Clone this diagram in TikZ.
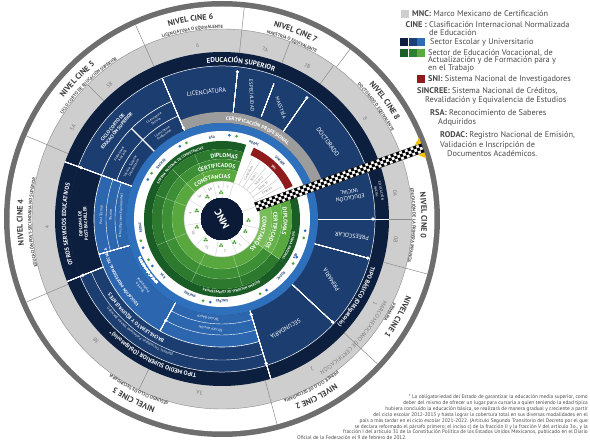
\documentclass[tikz,border=0pt]{standalone}
\usepackage{fontspec}
\setmainfont{PT Sans}
\usetikzlibrary{decorations.text}
\definecolor{borderg}{HTML}{6E6E6E}
\definecolor{bandg}{HTML}{CECECE}
\definecolor{divgray}{HTML}{8C8C8C}
\definecolor{darkband}{HTML}{0C1F3F}
\definecolor{navy}{HTML}{1C3D6F}
\definecolor{midblue}{HTML}{2C66AE}
\definecolor{ringblue}{HTML}{2E70BC}
\definecolor{certg}{HTML}{9C9C9C}
\definecolor{gdark}{HTML}{1A5C25}
\definecolor{gone}{HTML}{2D7A2E}
\definecolor{gtwo}{HTML}{3D8F35}
\definecolor{gthree}{HTML}{58A83F}
\definecolor{glight}{HTML}{66B24A}
\definecolor{glighter}{HTML}{78BD5A}
\definecolor{snired}{HTML}{8E1C1C}
\definecolor{mnccol}{HTML}{0B1A37}
\definecolor{txtg}{HTML}{4A4A4A}
\definecolor{titg}{HTML}{3A3A3A}
\definecolor{numg}{HTML}{7C7C7C}
\definecolor{dotblue}{HTML}{2C6FC0}
\definecolor{dotgreen}{HTML}{4DA33A}
\definecolor{flagy}{HTML}{F2C200}
\definecolor{sqa}{HTML}{0C1F3F}
\definecolor{sqb}{HTML}{1D3F73}
\definecolor{sqc}{HTML}{2E6DB5}
\definecolor{sqd}{HTML}{1D5E27}
\definecolor{sqe}{HTML}{2F7F32}
\definecolor{sqf}{HTML}{5AAB3F}
\newcommand\fsTitle{\fontsize{8}{8}\selectfont\bfseries}
\newcommand\fsSub{\fontsize{4.5}{4.5}\selectfont\bfseries}
\newcommand\fsBand{\fontsize{7}{7}\selectfont\bfseries}
\newcommand\fsBandS{\fontsize{6}{6}\selectfont\bfseries}
\newcommand\fsGreen{\fontsize{5.8}{5.8}\selectfont\bfseries}
\newcommand\fsRing{\fontsize{3.4}{3.4}\selectfont\bfseries}
\newcommand\fsMarco{\fontsize{5.8}{5.8}\selectfont}
\newcommand\fsCert{\fontsize{5.2}{5.2}\selectfont\bfseries}
\newcommand\fsBach{\fontsize{5}{5}\selectfont\bfseries}
\newcommand\fsEpt{\fontsize{4.2}{4.2}\selectfont\bfseries}
\newcommand\fsGen{\fontsize{3.6}{3.6}\selectfont}
\newcommand\fsTiny{\fontsize{3.4}{3.4}\selectfont}
\newcommand\annsec[5]{\fill[#5] (#1:#3pt) arc[start angle=#1,end angle=#2,radius=#3pt] -- (#2:#4pt) arc[start angle=#2,end angle=#1,radius=#4pt] -- cycle;}
\newcommand\ctext[5]{\path[decorate,decoration={text along path,text align=center,text color=#3,text={|#4|#5}}] ({#1+50}:#2pt) arc[start angle={#1+50},end angle={#1-50},radius=#2pt];}
\newcommand\clover[2]{\fill[dotgreen] (#1:#2pt) ++(-1.2,-0.6) circle (1.1pt) ++(2.4,0) circle (1.1pt) ++(-1.2,1.9) circle (1.1pt);}
\newcommand\dotpair[2]{\fill[dotblue] (#1:#2pt) circle (1.5pt); \fill[dotgreen] ({#1-5}:#2pt) circle (1.5pt);}
\tikzset{
  wl/.style={inner sep=0pt, text=white, align=center},
  numlbl/.style={inner sep=0pt, font=\fontsize{5.5}{5.5}\selectfont, text=numg},
  innum/.style={inner sep=0pt, font=\fontsize{3.8}{3.8}\selectfont, text=numg},
  divw/.style={white, line width=0.6pt},
  divg/.style={divgray, line width=0.5pt},
  legtxt/.style={anchor=west, inner sep=0pt, font=\fontsize{8.3}{8.3}\selectfont, text=txtg},
  foot/.style={anchor=east, inner sep=0pt, font=\fontsize{5.3}{5.3}\selectfont, text=txtg},
  sq/.style={minimum size=8pt, inner sep=0pt, anchor=north west},
  snil/.style={inner sep=0pt, font=\fsTiny, text=numg},
}
\begin{document}
\begin{tikzpicture}[x=1pt,y=1pt]
\useasboundingbox (-222,-225) rectangle (368,219);
% ---------- outer rings
\fill[borderg] (0,0) circle (218pt);
\fill[white] (0,0) circle (212.5pt);
\fill[bandg] (0,0) circle (190pt);
\draw[divgray,line width=0.4pt] (0,0) circle (190pt);
\fill[darkband] (0,0) circle (167pt);
\fill[navy] (0,0) circle (153pt);
\annsec{160}{202}{128}{153}{darkband}
\annsec{160}{287}{96}{128}{midblue}
\annsec{22}{113}{96}{107}{certg}
\draw[white,line width=0.5pt] (202:153pt) arc[start angle=202,end angle=520,radius=153pt];
% ---------- inner rings
\fill[ringblue] (0,0) circle (96pt);
\fill[white] (0,0) circle (88pt);
\annsec{72}{325}{70}{78}{gdark}
\annsec{325}{380}{70}{78}{gdark}
\annsec{72}{325}{60}{70}{gone}
\annsec{72}{325}{50}{60}{gtwo}
\annsec{72}{325}{38}{50}{gthree}
\annsec{325}{380}{60}{70}{gthree}
\annsec{325}{380}{50}{60}{glight}
\annsec{325}{380}{38}{50}{glighter}
\foreach \a in {113,135,160,202,244,287,325}
  \draw[white,opacity=0.45,line width=0.4pt] (\a:38pt) -- (\a:70pt);
\foreach \r in {50,60}
  \draw[white,opacity=0.3,line width=0.3pt] (72:\r pt) arc[start angle=72,end angle=380,radius=\r pt];
% number ring
\draw[gray!45,line width=0.3pt] (0,0) circle (38pt);
\foreach \a in {72,88,104,121,150,190,225,260,293,318,345,20}
  \draw[gray!45,line width=0.3pt] (\a:21pt) -- (\a:38pt);
\node[innum,rotate=-10] (n7) at (80:32pt) {7};
\node[innum,rotate=6] (n6) at (96:32pt) {6};
\node[innum,rotate=22] (n5b) at (112:32pt) {5b};
\node[innum,rotate=42] (n5a) at (135:32pt) {5a};
\node[innum,rotate=80] (n4) at (170:32pt) {4};
\node[innum,rotate=117] (n3b) at (207:32pt) {3b};
\node[innum,rotate=152] (n3a) at (242:32pt) {3a};
\node[innum,rotate=186] (n2) at (276:32pt) {2};
\node[innum,rotate=215] (n1) at (305:32pt) {1};
\foreach \a in {92,124,162,198,232,268,298,332,357}
  \clover{\a}{26.5}
% MNC
\fill[mnccol] (0,0) circle (21pt);
\node[text=white,inner sep=0pt,font=\fontsize{10}{10}\selectfont\bfseries,rotate=118] (mnc) at (0,0) {MNC};
% SNI gap
\foreach \a in {28.5,35.5,42.5,49.5,56.5,63.5}
  \draw[gray!55,line width=0.3pt] (\a:38pt) -- (\a:68pt);
\node[snil,rotate=60] (cand) at (60:53pt) {Candidato};
\node[snil,rotate=53] (niv1) at (53:53pt) {Nivel I};
\node[snil,rotate=46] (niv2) at (46:53pt) {Nivel II};
\node[snil,rotate=39] (niv3) at (39:53pt) {Nivel III};
\node[snil,rotate=32] (emer) at (32:53pt) {Emérito};
\annsec{25}{66}{70}{78}{snired}
\ctext{45}{72}{white}{\fsRing}{SNI}
% green labels
\ctext{88}{61.5}{white}{\fsGreen}{DIPLOMAS}
\ctext{96}{51.5}{white}{\fsGreen}{CERTIFICADOS}
\ctext{104}{40.5}{white}{\fsGreen}{CONSTANCIAS}
\ctext{-2}{61.5}{white}{\fsGreen}{DIPLOMAS}
\ctext{-13}{51.5}{white}{\fsGreen}{CERTIFICADOS}
\ctext{-22}{40.5}{white}{\fsGreen}{CONSTANCIAS}
\ctext{128}{72}{white}{\fsRing}{SISTEMA NACIONAL DE COMPETENCIAS}
\ctext{-82}{72}{white}{\fsRing}{SISTEMA NACIONAL DE COMPETENCIAS}
\ctext{-22}{72}{white}{\fsRing}{SISTEMA NACIONAL}
% white ring labels
\ctext{97}{81}{sqb}{\fsRing}{RSA}
\ctext{67}{81}{sqb}{\fsRing}{RODAC}
\ctext{45}{81}{sqb}{\fsRing}{SINCREE}
\ctext{138}{81}{sqb}{\fsRing}{SINCREE}
\ctext{186}{81}{sqb}{\fsRing}{RODAC}
\ctext{224}{81}{sqb}{\fsRing}{RSA}
\ctext{247}{81}{sqb}{\fsRing}{SINCREE}
\ctext{-90}{81}{sqb}{\fsRing}{SINCREE}
\ctext{-44}{81}{sqb}{\fsRing}{RODAC}
\ctext{-27}{81}{sqb}{\fsRing}{RSA}
\foreach \a in {85,120,152,200,214,262,302,333,352}
  \dotpair{\a}{84}
\ctext{215}{90}{white}{\fsRing}{EDUCACIÓN ABIERTA}
% ---------- navy region dividers
\foreach \a/\ra/\rb in {0/96/167,-15/96/153,-43/96/153,-73/96/167,113/96/153,160/96/167,202/128/167,196/96/128,135/96/128,241/96/128,84/107/148,69/110/145,55/107/148}
  \draw[divw] (\a:\ra pt) -- (\a:\rb pt);
\draw[divw] (113:128pt) arc[start angle=113,end angle=160,radius=128pt];
\draw[divw] (113:112pt) arc[start angle=113,end angle=160,radius=112pt];
\draw[divw] (160:128pt) arc[start angle=160,end angle=287,radius=128pt];
\draw[divw,line width=0.4pt] (160:116pt) arc[start angle=160,end angle=196,radius=116pt];
\draw[divw,line width=0.4pt] (160:107pt) arc[start angle=160,end angle=196,radius=107pt];
\draw[divw,line width=0.4pt] (241:105pt) arc[start angle=241,end angle=287,radius=105pt];
\draw[divw,line width=0.4pt] (241:116pt) arc[start angle=241,end angle=287,radius=116pt];
\draw[divw,line width=0.4pt] (202:141pt) arc[start angle=202,end angle=287,radius=141pt];
\foreach \a/\r in {84/148,55/148,160/150,202/150,0/151,-15/151,-43/151,-73/151,113/99,-73/100,241/116}
  \fill[white] (\a:\r pt) circle (1.8pt);
% ---------- gray band / white band dividers
\foreach \a in {157,114,84,53,19.5,-15,-43,-75,-157}
  \draw[divg] (\a:190pt) -- (\a:212.5pt);
\foreach \a in {157,135,114,84,69,54,19.5,0,-15,-43,-75,-116,-157}
  \draw[divg] (\a:167pt) -- (\a:190pt);
% gray band labels
\foreach \a/\t in {148.5/5A,130/5B,98/6,75.7/7A,60.8/7B,35/8,8.3/0A,-6.7/0B,-29/1,-59/2,-97.4/3A,-136/3B,182.6/4}
  \node[numlbl,rotate=\a-90] (g\t) at (\a:175pt) {\t};
\ctext{-42}{181}{numg}{\fsMarco}{MARCO MEXICANO DE CERTIFICACIÓN}
% white band titles
\ctext{136}{199.5}{titg}{\fsTitle}{NIVEL CINE 5}
\ctext{135}{190.6}{txtg}{\fsSub}{CICLO CORTO DE EDUCACIÓN SUPERIOR}
\ctext{99}{199.5}{titg}{\fsTitle}{NIVEL CINE 6}
\ctext{99}{190.6}{txtg}{\fsSub}{LICENCIATURA O EQUIVALENTE}
\ctext{68.5}{199.5}{titg}{\fsTitle}{NIVEL CINE 7}
\ctext{68.5}{190.6}{txtg}{\fsSub}{MAESTRÍA O EQUIVALENTE}
\ctext{36}{199.5}{titg}{\fsTitle}{NIVEL CINE 8}
\ctext{36}{190.6}{txtg}{\fsSub}{DOCTORADO O EQUIVALENTE}
\ctext{1}{199.5}{titg}{\fsTitle}{NIVEL CINE 0}
\ctext{-2}{190.6}{txtg}{\fsSub}{EDUCACIÓN DE LA PRIMERA INFANCIA}
\ctext{-29}{199.5}{titg}{\fsTitle}{NIVEL CINE 1}
\ctext{-29}{190.6}{txtg}{\fsSub}{PRIMARIA}
\ctext{-62}{199.5}{titg}{\fsTitle}{NIVEL CINE 2}
\ctext{-62}{190.6}{txtg}{\fsSub}{PRIMER CICLO DE SECUNDARIA}
\ctext{-116}{199.5}{titg}{\fsTitle}{NIVEL CINE 3}
\ctext{-116}{190.6}{txtg}{\fsSub}{SEGUNDO CICLO DE SECUNDARIA}
\ctext{181}{199.5}{titg}{\fsTitle}{NIVEL CINE 4}
\ctext{181}{190.6}{txtg}{\fsSub}{EDUCACIÓN POST-SECUNDARIA NO SUPERIOR}
% dark band labels
\ctext{83}{156.5}{white}{\fsBand}{EDUCACIÓN SUPERIOR}
\ctext{-30}{156.5}{white}{\fsBandS}{TIPO BÁSICO (Obligatorio)}
\ctext{243}{156.5}{white}{\fsBandS}{TIPO MEDIO SUPERIOR (Obligatorio)*}
\ctext{182}{156}{white}{\fsBandS}{OTROS SERVICIOS EDUCATIVOS}
\ctext{10}{160.5}{white}{\fsGen}{EDUCACIÓN}
\ctext{10}{155.5}{white}{\fsGen}{INICIAL}
\ctext{68}{98.5}{white}{\fsCert}{CERTIFICACIÓN PROFESIONAL}
\ctext{229}{133.5}{white}{\fsBach}{BACHILLERATO Y EQUIVALENTES}
\ctext{234}{143.5}{white}{\fsGen}{(General, Tecnológico, Profesional Técnico Bachiller)}
\ctext{210}{119}{white}{\fsEpt}{EDUCACIÓN PROFESIONAL TÉCNICA}
% navy region labels
\node[wl,font=\fontsize{6.2}{6.2}\selectfont,rotate=7] (lic) at (97:128pt) {LICENCIATURA};
\node[wl,font=\fontsize{5}{5}\selectfont,rotate=-87] (esp) at (76.5:127pt) {ESPECIALIDAD};
\node[wl,font=\fontsize{5}{5}\selectfont,rotate=-70] (mae) at (62:126pt) {MAESTRÍA};
\node[wl,font=\fontsize{6.2}{6.2}\selectfont,rotate=-54] (doc) at (36:131pt) {DOCTORADO};
\node[wl,font=\fontsize{4.8}{5.4}\selectfont\bfseries,rotate=50] (cc) at (140:140pt) {CICLO CORTO DE\\EDUCACIÓN SUPERIOR};
\node[wl,font=\fontsize{3.4}{3.8}\selectfont,rotate=34] (lict) at (124:120pt) {Licenciatura\\Técnica};
\node[wl,font=\fontsize{3.4}{3.8}\selectfont,rotate=34] (licp) at (124.5:104pt) {Licenciatura\\Profesional};
\node[wl,font=\fontsize{3.4}{3.8}\selectfont,rotate=58] (pas) at (147.5:120pt) {Profesional\\Asociado};
\node[wl,font=\fontsize{3.4}{3.8}\selectfont,rotate=61] (tsu) at (150:104pt) {Técnico Superior\\Universitario};
\node[wl,font=\fontsize{5.6}{6.2}\selectfont,rotate=190] (ini) at (10.5:130pt) {EDUCACIÓN\\INICIAL};
\node[wl,font=\fontsize{6}{6}\selectfont,rotate=172] (pre) at (-7.5:131pt) {PREESCOLAR};
\node[wl,font=\fontsize{6}{6}\selectfont,rotate=122] (pri) at (-29:125pt) {PRIMARIA};
\node[wl,font=\fontsize{6}{6}\selectfont,rotate=210] (sec) at (-60:127pt) {SECUNDARIA};
\node[wl,font=\fontsize{4.6}{5.2}\selectfont\bfseries,rotate=93] (dpb) at (182:139pt) {DIPLOMA DE\\POST-BACHILLER};
\node[wl,font=\fontsize{3.6}{3.6}\selectfont,rotate=88] (ptec) at (178:121pt) {Post Técnico};
\node[wl,font=\fontsize{3.6}{3.6}\selectfont,rotate=88] (tec) at (178:111.5pt) {Técnico};
\node[wl,font=\fontsize{3.4}{3.4}\selectfont,rotate=88] (otr) at (178:101pt) {Otros (Opciones Equivalentes)};
\node[wl,font=\fontsize{3.8}{4.2}\selectfont,rotate=130] (tpro) at (220:105pt) {Técnico\\Profesional};
\node[wl,font=\fontsize{3.6}{3.6}\selectfont,rotate=169] (tbas) at (262:100pt) {Técnico Básico};
\node[wl,font=\fontsize{3.6}{3.6}\selectfont,rotate=171] (taux) at (264:110.5pt) {Técnico Auxiliar};
% ---------- checkered flag
\begin{scope}[rotate=19.5]
\fill[white] (36,-4.5) rectangle (213,4.5);
\foreach \i in {0,...,58} \foreach \j in {0,1,2} {
  \pgfmathtruncatemacro{\chk}{mod(\i+\j,2)}
  \ifnum\chk=0 \fill[black] ({36+3*\i},{-4.5+3*\j}) rectangle ++(3,3);\fi
}
\draw[black,line width=0.3pt] (36,-4.5) rectangle (213,4.5);
\fill[flagy] (206,5) -- (213,5) -- (213,11) -- cycle;
\fill[flagy] (206,-5) -- (213,-5) -- (213,-11) -- cycle;
\end{scope}
% ---------- legend
\node[sq,fill=bandg] (lsq) at (179,209) {};
\node[legtxt] (lmnc) at (190,205) {\textbf{MNC:} Marco Mexicano de Certificación};
\node[legtxt,anchor=east] (lcine) at (205,194) {\textbf{CINE :}};
\node[legtxt] (lcine1) at (207,194) {Clasificación Internacional Normalizada};
\node[legtxt] (lcine2) at (207,186.5) {de Educación};
\node[sq,fill=sqa] (lb1) at (178,181) {};
\node[sq,fill=sqb] (lb2) at (186.5,181) {};
\node[sq,fill=sqc] (lb3) at (195,181) {};
\node[legtxt] (lesc) at (208,177) {Sector Escolar y Universitario};
\node[sq,fill=sqd] (lg1) at (178,170) {};
\node[sq,fill=sqe] (lg2) at (186.5,170) {};
\node[sq,fill=sqf] (lg3) at (195,170) {};
\node[legtxt] (lvoc1) at (206,166) {Sector de Educación Vocacional, de};
\node[legtxt] (lvoc2) at (206,158.5) {Actualización y de Formación para y};
\node[legtxt] (lvoc3) at (206,151) {en el Trabajo};
\node[sq,fill=snired] (lr) at (195,144) {};
\node[legtxt] (lsni) at (206,140) {\textbf{SNI:} Sistema Nacional de Investigadores};
\node[legtxt] (lsin1) at (195,128) {\textbf{SINCREE:} Sistema Nacional de Créditos,};
\node[legtxt] (lsin2) at (203,119) {Revalidación y Equivalencia de Estudios};
\node[legtxt] (lrsa1) at (208,106) {\textbf{RSA:} Reconocimiento de Saberes};
\node[legtxt] (lrsa2) at (216,97) {Adquiridos};
\node[legtxt] (lrod1) at (218,84) {\textbf{RODAC:} Registro Nacional de Emisión,};
\node[legtxt] (lrod2) at (218,74) {Validación e Inscripción de};
\node[legtxt] (lrod3) at (225,65) {Documentos Académicos.};
% ---------- footnote
\node[foot] (f1) at (366,-178) {* La obligatoriedad del Estado de garantizar la educación media superior, como};
\node[foot] (f2) at (366,-184) {deber del mismo de ofrecer un lugar para cursarla a quien teniendo la edad típica};
\node[foot] (f3) at (366,-190) {hubiera concluido la educación básica, se realizará de manera gradual y creciente a partir};
\node[foot] (f4) at (366,-196) {del ciclo escolar 2012-2013 y hasta lograr la cobertura total en sus diversas modalidades en el};
\node[foot] (f5) at (366,-202) {país a más tardar en el ciclo escolar 2021-2022. (Artículo Segundo Transitorio del Decreto por el que};
\node[foot] (f6) at (366,-208) {se declara reformado el párrafo primero; el inciso c) de la fracción II y la fracción V del artículo 3o., y la};
\node[foot] (f7) at (366,-213.5) {fracción I del artículo 31 de la Constitución Política de los Estados Unidos Mexicanos, publicado en el Diario};
\node[foot,anchor=west] (f8) at (75,-219) {Oficial de la Federación el 9 de febrero de 2012.};
\end{tikzpicture}
\end{document}
